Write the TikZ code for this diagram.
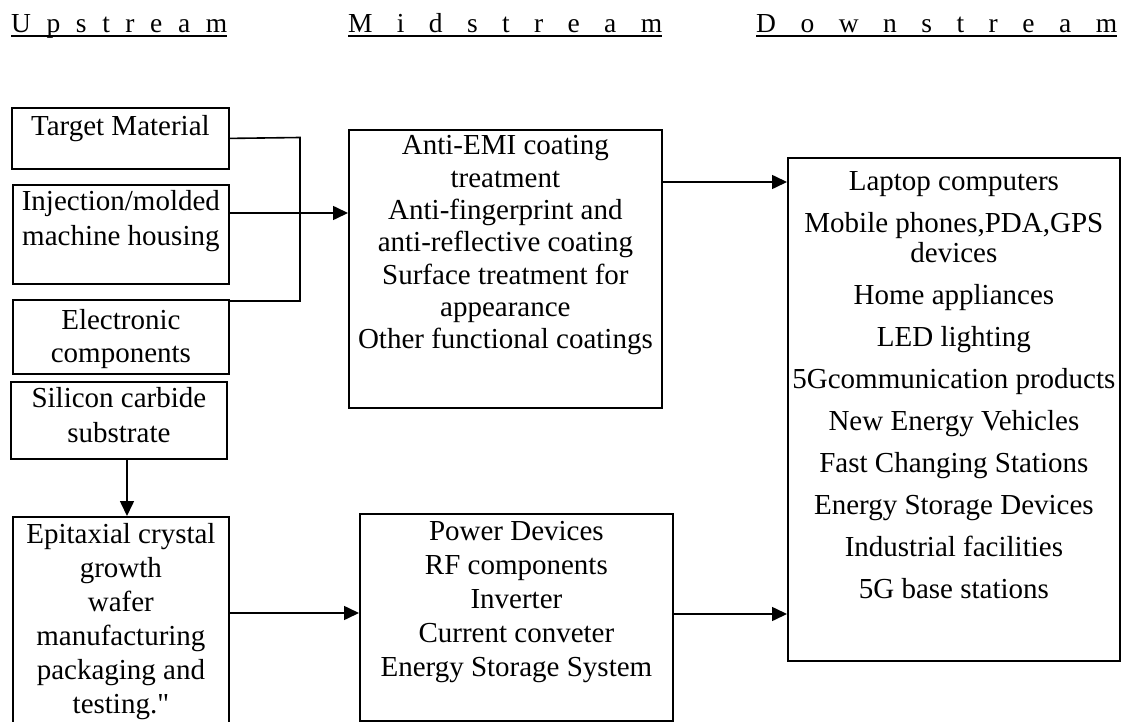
\documentclass[tikz,border=0pt]{standalone}
\usepackage{fontspec}
\setmainfont{Liberation Serif}[Ligatures=TeXOff]
\usetikzlibrary{arrows.meta}
\newcommand{\bxt}[5]{\parbox[t][#2][t]{#1}{\centering\fontsize{29}{#4}\selectfont\rule{0pt}{#3}#5}}
\begin{document}
\begin{tikzpicture}[x=1pt,y=-1pt,
  box/.style={draw,line width=1.8pt,inner sep=0pt,anchor=north west},
  conn/.style={line width=1.6pt},
  arr/.style={conn,-{Triangle[length=15pt,width=14pt]}},
  hdr/.style={inner sep=0pt,anchor=base west,font=\fontsize{27.5}{30}\selectfont},
  ul/.style={line width=2.6pt}]
\useasboundingbox (0,0) rectangle (1130,722);
\fill[white] (0,0) rectangle (1130,722);
% headers
\node[hdr] (hup) at (11,33) {\hbox to 216pt{U\hfil p\hfil s\hfil t\hfil r\hfil e\hfil a\hfil m}};
\draw[ul] ([yshift=-3.2pt]hup.base west) -- ([yshift=-3.2pt]hup.base east);
\node[hdr] (hmid) at (348,33) {\hbox to 314pt{M\hfil i\hfil d\hfil s\hfil t\hfil r\hfil e\hfil a\hfil m}};
\draw[ul] ([yshift=-3.2pt]hmid.base west) -- ([yshift=-3.2pt]hmid.base east);
\node[hdr] (hdown) at (756,33) {\hbox to 361pt{D\hfil o\hfil w\hfil n\hfil s\hfil t\hfil r\hfil e\hfil a\hfil m}};
\draw[ul] ([yshift=-3.2pt]hdown.base west) -- ([yshift=-3.2pt]hdown.base east);
% upstream boxes
\node[box] (tm) at (11,107) {\bxt{217pt}{61pt}{28pt}{34pt}{Target Material}};
\node[box] (inj) at (12,184) {\bxt{216pt}{99pt}{26pt}{35pt}{Injection/molded\\machine housing}};
\node[box] (elec) at (12,299) {\bxt{216pt}{74pt}{30pt}{33pt}{Electronic\\components}};
\node[box] (sic) at (10,381) {\bxt{216pt}{77pt}{26pt}{35pt}{Silicon carbide\\substrate}};
\node[box] (epi) at (12,516) {\bxt{216pt}{230pt}{27pt}{34pt}{Epitaxial crystal\\growth\\wafer\\manufacturing\\packaging and\\testing."}};
% midstream boxes
\node[box] (mtop) at (348,129) {\bxt{313pt}{278pt}{25pt}{32.3pt}{Anti-EMI coating\\treatment\\Anti-fingerprint and\\anti-reflective coating\\Surface treatment for\\appearance\\Other functional coatings}};
\node[box] (mbot) at (359,513) {\bxt{313pt}{207pt}{27pt}{34pt}{Power Devices\\RF components\\Inverter\\Current conveter\\Energy Storage System}};
% downstream box
\node[box] (down) at (787,157) {\bxt{332pt}{503pt}{33pt}{30pt}{Laptop computers\\[12pt]Mobile phones,PDA,GPS\\devices\\[12pt]Home appliances\\[12pt]LED lighting\\[12pt]5Gcommunication products\\[12pt]New Energy Vehicles\\[12pt]Fast Changing Stations\\[12pt]Energy Storage Devices\\[12pt]Industrial facilities\\[12pt]5G base stations}};
% connectors
\coordinate (jt) at (300,137.5);
\coordinate (jb) at (300,301);
\draw[conn] (tm.east) -- (jt) -- (jb) -- (jb -| elec.east);
\draw[arr] (inj.east |- 0,213) -- (mtop.west |- 0,213);
\draw[arr] (mtop.east |- 0,182) -- (down.west |- 0,182);
\draw[arr] (sic.south -| 127,0) -- (epi.north -| 127,0);
\draw[arr] (epi.east |- 0,613) -- (mbot.west |- 0,613);
\draw[arr] (mbot.east |- 0,614) -- (down.west |- 0,614);
\end{tikzpicture}
\end{document}
